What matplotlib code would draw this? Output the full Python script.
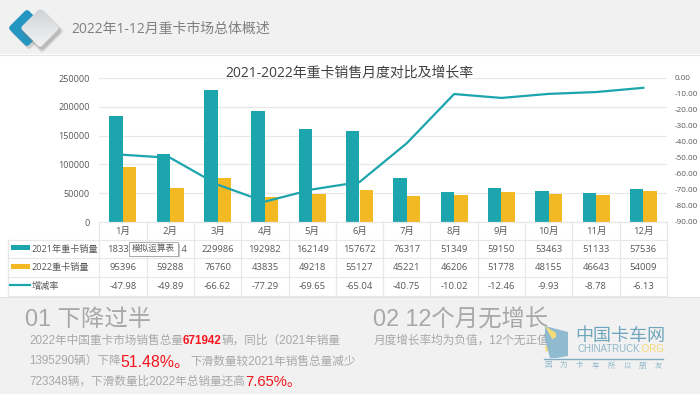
#!/usr/bin/env python
# -*- coding: utf-8 -*-
import matplotlib
matplotlib.use('Agg')
import matplotlib.pyplot as plt
from matplotlib.patches import Rectangle, FancyBboxPatch, Polygon
from matplotlib.transforms import Affine2D
import numpy as np

plt.rcParams['font.family'] = ['Open Sans', 'Noto Sans CJK SC', 'DejaVu Sans']
plt.rcParams['axes.unicode_minus'] = False
ARIAL = ['Liberation Sans', 'Noto Sans CJK SC', 'DejaVu Sans']

MONTHS = ['1月', '2月', '3月', '4月', '5月', '6月', '7月', '8月', '9月', '10月', '11月', '12月']
SALES_2021 = [183383, 118314, 229986, 192982, 162149, 157672, 76317, 51349, 59150, 53463, 51133, 57536]
SALES_2022 = [95396, 59288, 76760, 43835, 49218, 55127, 45221, 46206, 51778, 48155, 46643, 54009]
RATE = [-47.98, -49.89, -66.62, -77.29, -69.65, -65.04, -40.75, -10.02, -12.46, -9.93, -8.78, -6.13]
RATE_STR = ['-47.98', '-49.89', '-66.62', '-77.29', '-69.65', '-65.04', '-40.75', '-10.02', '-12.46', '-9.93', '-8.78', '-6.13']
LEFT_TICKS = [0, 50000, 100000, 150000, 200000, 250000]
RIGHT_TICKS = [0, -10, -20, -30, -40, -50, -60, -70, -80, -90]
ROW_NAMES = ['2021年重卡销量', '2022重卡销量', '增减率']

(W, H) = (700, 394)
(TEAL, YELLOW, GRID, BAND) = ('#1da5ae', '#f3b922', '#e8e8e8', '#f1f1f1')
(TX_GR, TX_LT, RED) = ('#595959', '#a8a8a8', '#f5141c')
(X0, X1, Y0, Y1) = (99.3, 667.0, 78.0, 222.0)

fig = plt.figure(figsize=(W/100, H/100), dpi=100, facecolor='white')
###############################################################################
# Page background (pixel coordinates)
###############################################################################
bg = fig.add_axes([0, 0, 1, 1], zorder=0)
bg.set_xlim(0, W)
bg.set_ylim(H, 0)
bg.axis('off')
bg.add_patch(Rectangle((0, 0), W, 54, fc=BAND, ec='none'))
bg.plot([0, W], [54.5, 54.5], color='#e4e4e4', lw=0.8)
bg.add_patch(Rectangle((0, 297), W, H-297, fc=BAND, ec='none'))
bg.plot([0, W], [296.5, 296.5], color='#e2e2e2', lw=0.8)


def diamond(ax, cx, cy, size, color, zorder, alpha=1.0):
    rot = Affine2D().rotate_deg_around(cx, cy, 45) + ax.transData
    patch = FancyBboxPatch(
        (cx-size/2, cy-size/2), size, size, boxstyle='round,pad=0,rounding_size=3',
        fc=color, ec='none', transform=rot, zorder=zorder, alpha=alpha
    )
    ax.add_patch(patch)
    return patch


diamond(bg, 29, 31, 27, '#9a9a9a', 2, 0.35)
diamond(bg, 27, 28, 27, '#2596c2', 3)
# soft shadow under the grey diamond
for (grow, alpha) in zip((4, 2, 0), (0.12, 0.18, 0.25)):
    diamond(bg, 42, 31, 28+grow, '#7d7d7d', 4, alpha)
clip = diamond(bg, 40, 28, 28, 'none', 6)
grad = bg.imshow(
    np.linspace(0, 1, 64).reshape(-1, 1), extent=(18, 62, 48, 8), cmap=matplotlib.colors.LinearSegmentedColormap.from_list('g', ['#cfd2d6', '#f4f4f4']),
    aspect='auto', zorder=5
)
grad.set_clip_path(clip)
bg.set_xlim(0, W)
bg.set_ylim(H, 0)
bg.text(71, 29, '2022年1-12月重卡市场总体概述', fontsize=10, color='#7f7f7f', va='center', ha='left')
###############################################################################
# Chart
###############################################################################
ax = fig.add_axes([X0/W, 1-Y1/H, (X1-X0)/W, (Y1-Y0)/H], zorder=1)
ax.patch.set_alpha(0)
xs = np.arange(len(MONTHS))
ax.bar(xs-0.143, SALES_2021, 0.285, color=TEAL, zorder=3)
ax.bar(xs+0.143, SALES_2022, 0.285, color=YELLOW, zorder=3)
ax.set_xlim(-0.5, 11.5)
ax.set_ylim(0, 250000)
ax.set_yticks(LEFT_TICKS)
ax.set_xticks([])
ax.tick_params(axis='y', length=0, labelsize=6.6, labelcolor=TX_GR, pad=7)
ax.grid(axis='y', color=GRID, lw=0.9, zorder=0)
ax.set_axisbelow(True)
for sp in ax.spines.values():
    sp.set_visible(False)
ax2 = ax.twinx()
ax2.plot(xs, RATE, color=TEAL, lw=1.6, zorder=5)
ax2.set_ylim(-90, 0)
ax2.set_yticks(RIGHT_TICKS)
ax2.set_yticklabels(['{:.2f}'.format(v) for v in RIGHT_TICKS])
ax2.tick_params(axis='y', length=0, labelsize=5.9, labelcolor=TX_GR, pad=5.5)
for sp in ax2.spines.values():
    sp.set_visible(False)
###############################################################################
# Overlay: title, data table, text blocks
###############################################################################
top = fig.add_axes([0, 0, 1, 1], zorder=2)
top.set_xlim(0, W)
top.set_ylim(H, 0)
top.axis('off')
top.text(349, 73, '2021-2022年重卡销售月度对比及增长率', fontsize=10, color='#404040', ha='center', va='center')

colW = (X1-X0)/len(MONTHS)
rowY = [222, 240, 258, 277, 296]
top.plot([X0, X1], [rowY[0]]*2, color=GRID, lw=0.9)
for y in rowY[1:]:
    top.plot([8, X1], [y, y], color=GRID, lw=0.9)
for i in range(len(MONTHS)+1):
    top.plot([X0+i*colW]*2, [rowY[0], rowY[-1]], color=GRID, lw=0.9)
top.plot([8, 8], [rowY[1], rowY[-1]], color=GRID, lw=0.9)
rows = [[str(v) for v in SALES_2021], [str(v) for v in SALES_2022], RATE_STR]
for (r, row) in enumerate(rows):
    yc = (rowY[r+1]+rowY[r+2])/2
    for (i, val) in enumerate(row):
        top.text(X0+(i+0.5)*colW, yc, val, fontsize=6.8, color=TX_GR, ha='center', va='center')
    top.text(32, yc, ROW_NAMES[r], fontsize=6.6, color=TX_GR, ha='left', va='center')
for (i, m) in enumerate(MONTHS):
    top.text(X0+(i+0.5)*colW, 231, m, fontsize=6.8, color=TX_GR, ha='center', va='center')
top.add_patch(Rectangle((11, 245), 19, 5, fc=TEAL, ec='none'))
top.add_patch(Rectangle((11, 263.5), 19, 5, fc=YELLOW, ec='none'))
top.plot([10, 30], [285, 285], color=TEAL, lw=1.6)
# tooltip over the first cells
top.add_patch(Rectangle((130.5, 243.5), 49, 13.5, fc='#c4c4c4', ec='none', zorder=6))
top.add_patch(Rectangle((129, 242), 49, 13.5, fc='white', ec='#a0a0a0', lw=0.6, zorder=7))
top.text(153.5, 248.8, '模拟运算表', fontsize=6.2, color=TX_GR, ha='center', va='center', zorder=8)

top.text(25, 320, '01 下降过半', fontsize=16.8, color=TX_LT, ha='left', va='center', family=ARIAL)
top.text(373, 320, '02 12个月无增长', fontsize=16.8, color=TX_LT, ha='left', va='center', family=ARIAL)


def runs(ax, x, y, parts, zorder=3):
    # mixed text on one line, each run starts where the last one ended
    rend = fig.canvas.get_renderer()
    for (txt, size, color, weight) in parts:
        t = ax.text(x, y, txt, fontsize=size, color=color, fontweight=weight, ha='left', va='center', family=ARIAL, zorder=zorder)
        x = t.get_window_extent(rend).x1


runs(top, 29, 341, [
    ('2022年中国重卡市场销售总量', 8.4, TX_LT, 'normal'), ('671942', 8.4, RED, 'bold'),
    ('辆，同比（2021年销量', 8.4, TX_LT, 'normal')
])
runs(top, 29, 362, [
    ('1395290辆）下降', 8.4, TX_LT, 'normal'), ('51.48%。', 11.4, RED, 'normal'),
    ('下滑数量较2021年销售总量减少', 8.4, TX_LT, 'normal')
])
runs(top, 29, 382, [
    ('723348辆，下滑数量比2022年总销量还高', 8.4, TX_LT, 'normal'), ('7.65%。', 10.6, RED, 'normal')
])
top.text(374, 341, '月度增长率均为负值，12个无正值', fontsize=8.4, color=TX_LT, ha='left', va='center', family=ARIAL)
###############################################################################
# Watermark
###############################################################################
top.add_patch(Polygon([(545, 326), (568, 332), (568, 356), (556, 358), (556, 346), (545, 342)], fc='#8fbad0', ec='none', zorder=9))
top.add_patch(Polygon([(545, 326), (556, 333), (556, 341), (545, 346), (546, 352), (556, 346)], fc='#f7dc7a', ec='none', zorder=10))
top.add_patch(Polygon([(546, 343), (556, 337), (556, 358), (550, 358)], fc='#8fbad0', ec='none', zorder=10))
top.text(575, 336, '中国卡车网', fontsize=13, color='#6fa6bd', ha='left', va='center', zorder=10)
runs(top, 577, 349.5, [('CHINATRUCK', 7, '#8fb6c8', 'normal'), ('.ORG', 7, '#f5d97a', 'normal')], zorder=10)
top.plot([544, 663], [359, 359], color='#7fadc2', lw=1, zorder=10)
for (i, ch) in enumerate('因为卡车所以朋友'):
    top.text(548+i*15.8, 366, ch, fontsize=5.4, color='#8fb6c8', ha='center', va='center', zorder=10)

fig.savefig('out.png', dpi=100, facecolor='white')
plt.close('all')
